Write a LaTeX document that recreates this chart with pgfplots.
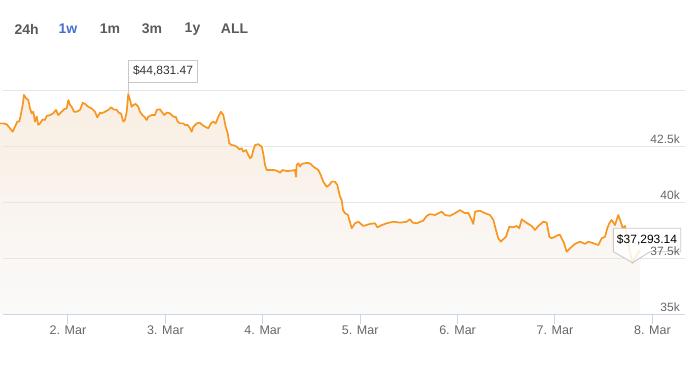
\documentclass[border=0pt]{standalone}
\usepackage{pgfplots}
\pgfplotsset{compat=1.18}
\usepackage{pgfplotstable}
\usepackage{fontspec}
\setmainfont{Liberation Sans}
\definecolor{btc}{RGB}{247,151,34}
\definecolor{gridc}{RGB}{230,230,230}
\definecolor{axc}{RGB}{204,214,235}
\definecolor{labc}{RGB}{102,102,102}
\definecolor{btn}{RGB}{90,90,90}
\definecolor{btnsel}{RGB}{72,110,205}
\definecolor{boxc}{RGB}{200,200,200}
\definecolor{txtc}{RGB}{51,51,51}
\definecolor{fillt}{RGB}{249,238,226}
\definecolor{fillb}{RGB}{250,250,250}
\pgfplotstableread{
d v
1.302 43510
1.336 43510
1.371 43470
1.405 43290
1.432 43140
1.456 43360
1.480 43590
1.500 43590
1.515 43880
1.535 44330
1.548 44780
1.569 44630
1.593 44550
1.610 44180
1.627 43960
1.644 44030
1.661 43590
1.679 43810
1.695 43440
1.713 43510
1.740 43690
1.764 43660
1.781 43840
1.815 43880
1.849 43960
1.877 44110
1.901 43880
1.935 44030
1.959 44140
1.987 44180
2.003 44550
2.021 44330
2.038 44250
2.062 44030
2.089 44030
2.123 44110
2.151 44430
2.175 44380
2.209 44250
2.243 44180
2.277 44030
2.301 43780
2.329 43990
2.346 43960
2.380 44030
2.414 44110
2.442 44230
2.465 44140
2.500 44110
2.527 43960
2.544 43960
2.568 43590
2.585 43660
2.603 44030
2.619 44831.47
2.637 44550
2.654 44250
2.671 44330
2.695 44380
2.722 44250
2.739 44030
2.763 43880
2.784 43810
2.808 43660
2.825 43810
2.859 43880
2.893 43880
2.911 44110
2.945 44140
2.962 44030
2.989 43880
3.013 43990
3.047 43960
3.081 43810
3.106 43810
3.126 43590
3.150 43510
3.184 43510
3.201 43440
3.229 43440
3.253 43290
3.270 43140
3.287 43360
3.322 43510
3.355 43540
3.379 43440
3.407 43360
3.441 43290
3.468 43510
3.492 43590
3.517 43510
3.543 43810
3.571 44030
3.595 43880
3.619 43360
3.640 43070
3.656 42620
3.681 42540
3.697 42540
3.732 42470
3.759 42350
3.784 42400
3.800 42250
3.828 42320
3.851 42100
3.869 41950
3.886 42020
3.903 42320
3.920 42540
3.954 42580
3.989 42470
4.005 42170
4.023 41650
4.040 41430
4.074 41430
4.108 41430
4.143 41400
4.177 41310
4.204 41430
4.245 41380
4.297 41400
4.331 41430
4.341 41130
4.348 41650
4.365 41730
4.382 41580
4.400 41700
4.433 41730
4.467 41750
4.492 41700
4.519 41580
4.546 41500
4.570 41430
4.595 41210
4.621 40910
4.656 40680
4.683 40760
4.708 40910
4.741 40910
4.765 40760
4.793 40240
4.810 40090
4.824 39640
4.844 39500
4.875 39420
4.913 38830
4.947 39050
4.981 39120
5.032 38930
5.101 39020
5.152 39050
5.176 38870
5.221 38970
5.272 39050
5.340 39120
5.409 39080
5.478 39120
5.511 39230
5.539 39080
5.580 39050
5.648 39170
5.683 39380
5.717 39460
5.768 39420
5.837 39570
5.871 39420
5.922 39380
5.973 39500
6.025 39640
6.076 39500
6.110 39520
6.145 39200
6.161 39020
6.179 39570
6.230 39610
6.282 39500
6.333 39420
6.367 39200
6.394 38750
6.418 38380
6.443 38230
6.469 38340
6.497 38450
6.531 38900
6.572 38870
6.607 38930
6.634 38830
6.658 39230
6.692 39120
6.726 39020
6.761 38930
6.795 38750
6.829 38930
6.880 39120
6.915 39080
6.942 38450
6.966 38380
7.000 38450
7.034 38530
7.052 38530
7.093 38160
7.120 37780
7.154 37930
7.205 38130
7.257 38230
7.308 38130
7.342 38230
7.393 38160
7.445 38080
7.480 38380
7.514 38450
7.537 38830
7.558 39050
7.582 39200
7.616 38970
7.650 39420
7.675 39120
7.695 38830
7.719 38930
7.744 38390
7.770 37770
7.796 37293.14
7.839 37630
7.873 37860
}\pricedata
\begin{document}
\begin{tikzpicture}
\useasboundingbox (0,0) rectangle (696pt,370pt);
\begin{axis}[
  at={(3pt,56pt)}, anchor=south west, scale only axis,
  width=682pt, height=259.84pt,
  xmin=1.3328, xmax=8.335, ymin=35000, ymax=46600,
  clip=false, no marks,
  scaled y ticks=false, scaled x ticks=false,
  axis line style={draw=none},
  xtick={2,3,4,5,6,7,8},
  xticklabels={2. Mar,3. Mar,4. Mar,5. Mar,6. Mar,7. Mar,8. Mar},
  xtick pos=left, xtick align=outside, major tick length=10pt,
  xtick style={draw=axc, line width=1pt},
  xticklabel style={anchor=base, yshift=-10.5pt, font=\fontsize{12.5}{14}\selectfont, text=labc},
  ytick={35000,37500,40000,42500,45000},
  yticklabels={35k,{},40k,42.5k,{}},
  ytick style={draw=none},
  yticklabel pos=right,
  yticklabel style={anchor=base east, inner sep=0pt, xshift=-5pt, yshift=3pt, font=\fontsize{12}{14}\selectfont, text=labc},
  ymajorgrids, grid style={draw=gridc, line width=1pt},
]
\addplot[draw=none, top color=fillt, bottom color=fillb] table[x=d,y=v]{\pricedata} \closedcycle;
% grid lines redrawn over the area fill
\draw[gridc, line width=1pt] (axis cs:1.3328,37500) -- (axis cs:8.335,37500);
\draw[gridc, line width=1pt] (axis cs:1.3328,40000) -- (axis cs:8.335,40000);
\draw[gridc, line width=1pt] (axis cs:1.3328,42500) -- (axis cs:8.335,42500);
\draw[gridc, line width=1pt] (axis cs:1.3328,45000) -- (axis cs:8.335,45000);
\draw[axc, line width=1pt] (axis cs:1.3328,35000) -- (axis cs:8.335,35000);
\addplot[btc, line width=1.7pt, line join=round] table[x=d,y=v]{\pricedata};
% annotation 1
\draw[boxc, line width=0.9pt] (axis cs:2.619,45344) -- (axis cs:2.619,44831.47);
\filldraw[fill=white, draw=boxc, line width=0.9pt] (axis cs:2.619,45344) rectangle (axis cs:3.332,46326);
\node[text=txtc, font=\fontsize{12}{14}\selectfont] at (axis cs:2.976,45835) {\$44,831.47};
% annotation 2
\filldraw[fill=white, fill opacity=0.85, draw=boxc, line width=0.9pt]
  (axis cs:7.599,38826) -- (axis cs:8.291,38826) -- (axis cs:8.291,37781) -- (axis cs:7.976,37781)
  -- (axis cs:7.796,37293.14) -- (axis cs:7.599,37781) -- cycle;
\node[text=black, font=\fontsize{12}{14}\selectfont] at (axis cs:7.945,38304) {\$37,293.14};
% 37.5k tick label, set over the callout as in the original
\node[anchor=base east, inner sep=0pt, xshift=-5pt, yshift=3pt, font=\fontsize{12}{14}\selectfont, text=labc] at (axis cs:8.335,37500) {37.5k};
\end{axis}
% range buttons
\begin{scope}[every node/.style={font=\bfseries\fontsize{14}{16}\selectfont, text=btn}]
\node at (26.7pt,341pt) {24h};
\node[text=btnsel] at (68pt,341pt) {1w};
\node at (110pt,341pt) {1m};
\node at (152pt,341pt) {3m};
\node at (192.5pt,341pt) {1y};
\node at (234.5pt,341pt) {ALL};
\end{scope}
\end{tikzpicture}
\end{document}
